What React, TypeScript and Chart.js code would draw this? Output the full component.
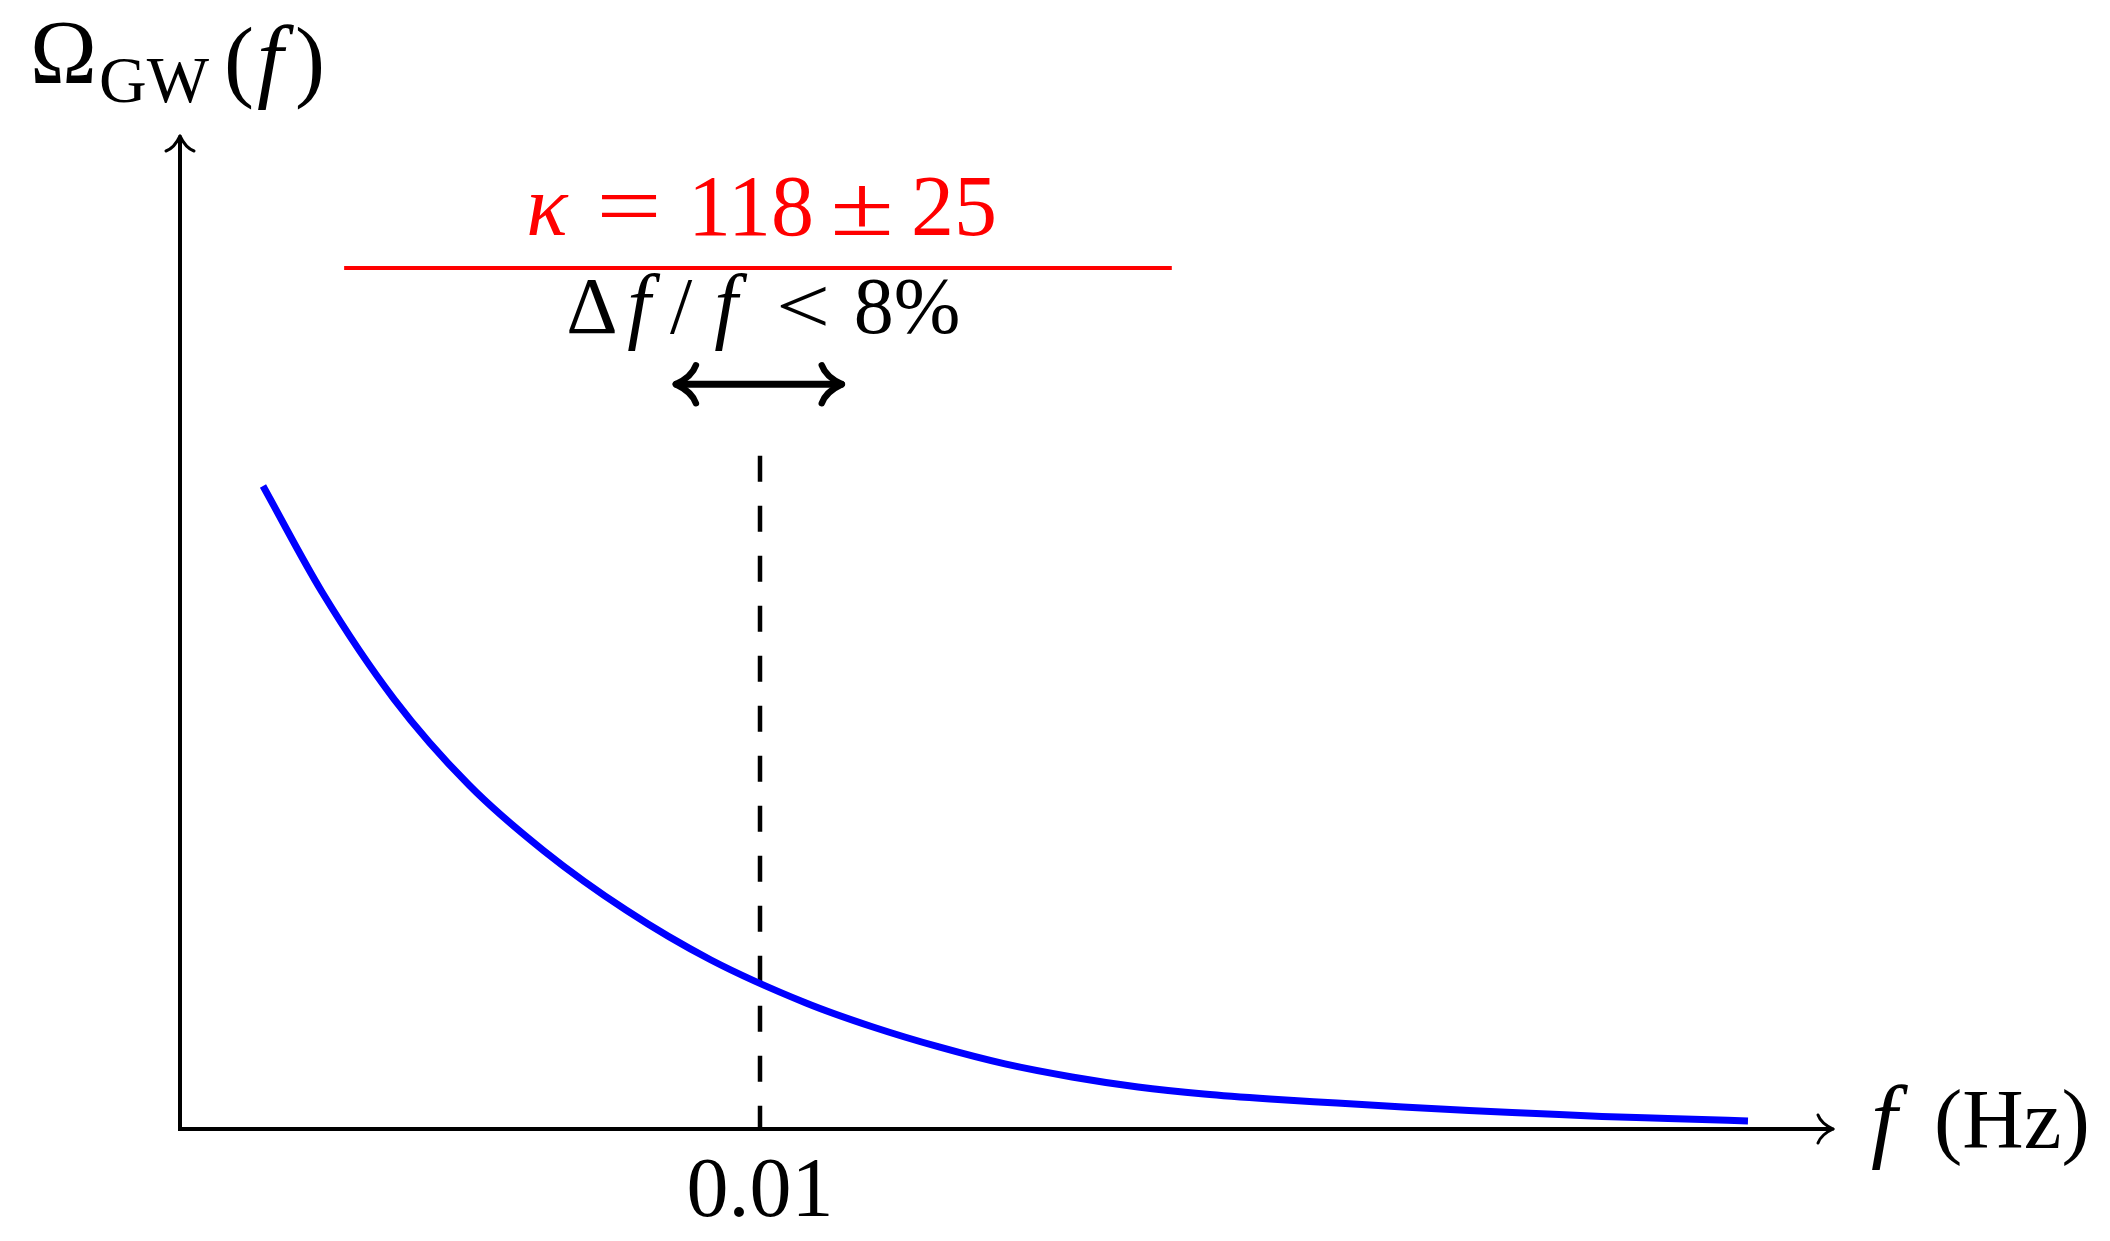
import React, { useEffect, useRef } from "react";
import { Chart, registerables } from "chart.js";

Chart.register(...registerables);

// ---- data ----
const freqHz = [
  0.001431, 0.002448, 0.00369, 0.004983, 0.006276, 0.00769, 0.009155, 0.010793,
  0.011948, 0.013086, 0.014224, 0.015379, 0.016517, 0.017655, 0.018793, 0.019948,
  0.021086, 0.022224, 0.023379, 0.024517, 0.025655, 0.027034,
];
const omegaGW = [
  0.6475, 0.5408, 0.433, 0.3464, 0.28, 0.2205, 0.1702, 0.1269,
  0.1027, 0.0826, 0.0655, 0.0524, 0.0423, 0.0352, 0.0302, 0.0262,
  0.0222, 0.0186, 0.0156, 0.0126, 0.0106, 0.0081,
];
const xAxisRange = [0, 0.0285];
const yAxisRange = [0, 1];
const xTickValues = [0.01];
const xTickLabels = ["0.01"];
const markerFreq = 0.01;
const markerTopOmega = 0.678;
const resolutionBand = [0.00855, 0.01141];
const resolutionOmega = 0.75;
const fractionBar = [0.00283, 0.0171];
const fractionOmega = 0.867;
const kappaParts = ["κ", "=", "118", "±", "25"];
const resolutionParts = ["Δ", "f", "/", "f", "<", "8%"];
const xAxisTitle = ["f", "(Hz)"];
const yAxisTitle = ["Ω", "GW", "(", "f", ")"];

const SERIF = '"Liberation Serif", "Times New Roman", serif';

function head(ctx: CanvasRenderingContext2D, tx: number, ty: number, dx: number, dy: number, L: number, H: number) {
  // dx,dy: unit vector pointing toward the tip
  const px = -dy, py = dx;
  for (const s of [1, -1]) {
    const ex = tx - dx * L + px * H * s;
    const ey = ty - dy * L + py * H * s;
    const cx = tx - dx * L * 0.8 + px * H * 0.4 * s;
    const cy = ty - dy * L * 0.8 + py * H * 0.4 * s;
    ctx.beginPath();
    ctx.moveTo(ex, ey);
    ctx.quadraticCurveTo(cx, cy, tx, ty);
    ctx.stroke();
  }
}

function textScaled(ctx: CanvasRenderingContext2D, t: string, cx: number, by: number, sx: number) {
  ctx.save();
  ctx.translate(cx, by);
  ctx.scale(sx, 1);
  ctx.textAlign = "center";
  ctx.fillText(t, 0, 0);
  ctx.restore();
}

const annotations = {
  id: "annotations",
  beforeDatasetsDraw(chart: any) {
    const { ctx, scales } = chart;
    const x = scales.x, y = scales.y;
    const x0 = x.getPixelForValue(xAxisRange[0]);
    const y0 = y.getPixelForValue(yAxisRange[0]);
    const xEnd = x.getPixelForValue(xAxisRange[1]);
    const yEnd = y.getPixelForValue(yAxisRange[1]);
    ctx.save();
    ctx.strokeStyle = "#000";
    ctx.lineWidth = 4;
    ctx.lineCap = "butt";
    ctx.beginPath();
    ctx.moveTo(x0 - 2, y0);
    ctx.lineTo(xEnd - 1, y0);
    ctx.stroke();
    ctx.beginPath();
    ctx.moveTo(x0, y0 + 2);
    ctx.lineTo(x0, yEnd + 1);
    ctx.stroke();
    ctx.lineWidth = 3;
    ctx.lineCap = "round";
    head(ctx, xEnd, y0, 1, 0, 15, 14);
    head(ctx, x0, yEnd, 0, -1, 15, 14);

    // dashed marker at 0.01
    const mx = x.getPixelForValue(markerFreq);
    ctx.lineCap = "butt";
    ctx.lineWidth = 4.5;
    ctx.setLineDash([26, 24]);
    ctx.beginPath();
    ctx.moveTo(mx, y.getPixelForValue(markerTopOmega));
    ctx.lineTo(mx, y0);
    ctx.stroke();
    ctx.setLineDash([]);
    ctx.restore();
  },
  afterDatasetsDraw(chart: any) {
    const { ctx, scales } = chart;
    const x = scales.x, y = scales.y;
    const mx = x.getPixelForValue(markerFreq);
    ctx.save();
    ctx.textBaseline = "alphabetic";

    // tick labels
    ctx.fillStyle = "#000";
    ctx.textAlign = "center";
    ctx.font = `84px ${SERIF}`;
    xTickValues.forEach((v, i) => {
      ctx.fillText(xTickLabels[i], x.getPixelForValue(v), 1216);
    });

    // x axis title
    ctx.font = `italic 94px ${SERIF}`;
    ctx.fillText(xAxisTitle[0], 1884, 1150);
    ctx.textAlign = "left";
    ctx.font = `85px ${SERIF}`;
    ctx.fillText(xAxisTitle[1], 1934, 1148);

    // y axis title
    ctx.font = `90px ${SERIF}`;
    ctx.fillText(yAxisTitle[0], 30, 83);
    ctx.font = `66px ${SERIF}`;
    ctx.fillText(yAxisTitle[1], 99, 102);
    ctx.font = `90px ${SERIF}`;
    ctx.fillText(yAxisTitle[2], 224, 90);
    ctx.textAlign = "center";
    ctx.font = `italic 94px ${SERIF}`;
    ctx.fillText(yAxisTitle[3], 270, 90);
    ctx.textAlign = "right";
    ctx.font = `90px ${SERIF}`;
    ctx.fillText(yAxisTitle[4], 325, 90);

    // red fraction bar
    const fy = y.getPixelForValue(fractionOmega);
    ctx.strokeStyle = "#ff0000";
    ctx.lineWidth = 4;
    ctx.beginPath();
    ctx.moveTo(x.getPixelForValue(fractionBar[0]), fy);
    ctx.lineTo(x.getPixelForValue(fractionBar[1]), fy);
    ctx.stroke();

    // kappa text
    ctx.fillStyle = "#ff0000";
    const kOff = [-213, -131, -9, 102, 194];
    const kScale = [1, 1.35, 1, 1.35, 1];
    kappaParts.forEach((t, i) => {
      ctx.font = (i === 0 ? "italic " : "") + `86px ${SERIF}`;
      textScaled(ctx, t, mx + kOff[i], fy - 33, kScale[i]);
    });

    // resolution text
    ctx.fillStyle = "#000";
    const rOff = [-168, -121, -79, -34, 43, 147];
    resolutionParts.forEach((t, i) => {
      ctx.font = (t === "f" ? "italic 84px " : "80px ") + SERIF;
      textScaled(ctx, t, mx + rOff[i], fy + 65, i === 4 ? 1.2 : 1);
    });

    // double arrow
    const ay = y.getPixelForValue(resolutionOmega);
    const ax1 = x.getPixelForValue(resolutionBand[0]);
    const ax2 = x.getPixelForValue(resolutionBand[1]);
    ctx.strokeStyle = "#000";
    ctx.lineWidth = 7;
    ctx.lineCap = "butt";
    ctx.beginPath();
    ctx.moveTo(ax1 + 3, ay);
    ctx.lineTo(ax2 - 3, ay);
    ctx.stroke();
    ctx.lineCap = "round";
    ctx.lineWidth = 6.5;
    head(ctx, ax1, ay, -1, 0, 20, 19);
    head(ctx, ax2, ay, 1, 0, 20, 19);
    ctx.restore();
  },
};

export default function App() {
  const ref = useRef<HTMLCanvasElement | null>(null);
  useEffect(() => {
    const canvas = ref.current;
    if (!canvas) return;
    const chart = new Chart(canvas, {
      type: "line",
      data: {
        datasets: [
          {
            data: freqHz.map((f, i) => ({ x: f, y: omegaGW[i] })),
            borderColor: "#0000ff",
            borderWidth: 7,
            pointRadius: 0,
            fill: false,
            cubicInterpolationMode: "monotone",
            borderCapStyle: "butt",
          },
        ],
      },
      options: {
        animation: false,
        responsive: false,
        devicePixelRatio: 1,
        layout: { padding: { left: 180, right: 277, top: 136, bottom: 112 } },
        plugins: { legend: { display: false }, tooltip: { enabled: false } },
        events: [],
        scales: {
          x: { type: "linear", min: xAxisRange[0], max: xAxisRange[1], display: false },
          y: { type: "linear", min: yAxisRange[0], max: yAxisRange[1], display: false },
        },
      },
      plugins: [annotations],
    } as any);
    return () => chart.destroy();
  }, []);
  return (
    <div style={{ position: "absolute", left: 0, top: 0, width: 2110, height: 1241, background: "#fff" }}>
      <canvas ref={ref} width={2110} height={1241} style={{ display: "block" }} />
    </div>
  );
}
